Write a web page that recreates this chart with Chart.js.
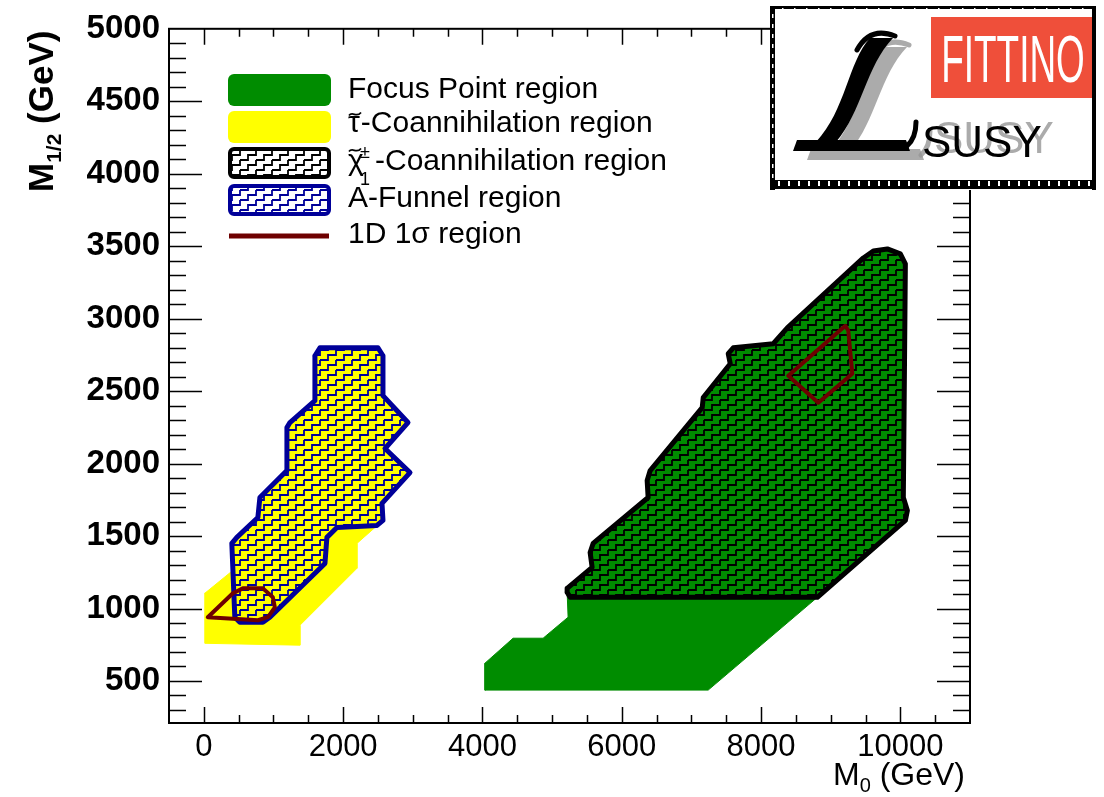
<!DOCTYPE html>
<html>
<head>
<meta charset="utf-8">
<script src="https://cdn.jsdelivr.net/npm/chart.js@4.4.0/dist/chart.umd.min.js"></script>
<style>
  html, body { margin: 0; padding: 0; background: #fff; }
  #chart { display: block; }
</style>
</head>
<body>
<canvas id="chart" width="1104" height="797"></canvas>
<script>
const xTicks = [0, 2000, 4000, 6000, 8000, 10000];
const yTicks = [500, 1000, 1500, 2000, 2500, 3000, 3500, 4000, 4500, 5000];

// Focus point region (green fill)
const focusM0  = [4037, 7241, 8808, 10072, 10101, 10043, 10072, 10000, 9813, 9612, 9469, 8377, 8175, 7601, 7529, 7558, 7170, 7155, 6408, 6365, 6379, 5589, 5546, 5575, 5216, 5216, 5230, 4871, 4440, 4037];
const focusM12 = [437, 437, 1077, 1608, 1677, 1766, 3378, 3447, 3481, 3467, 3419, 2937, 2827, 2799, 2758, 2689, 2455, 2386, 1952, 1883, 1766, 1449, 1387, 1284, 1139, 1112, 940, 795, 795, 623];

// stau coannihilation region (yellow fill)
const stauM0  = [14, 417, 402, 474, 776, 805, 1193, 1193, 1236, 1595, 1595, 1667, 2500, 2572, 2572, 2931, 2601, 2960, 2558, 2572, 2457, 2198, 2198, 1379, 1379, 14];
const stauM12 = [1105, 1263, 1449, 1491, 1628, 1766, 1952, 2248, 2283, 2434, 2744, 2799, 2799, 2744, 2469, 2283, 2104, 1938, 1725, 1608, 1559, 1449, 1277, 884, 747, 760];

// chargino coannihilation region (black hatch)
const charginoM0  = [5216, 5259, 8808, 10072, 10101, 10043, 10072, 10000, 9813, 9612, 9469, 8377, 8175, 7601, 7529, 7558, 7170, 7155, 6408, 6365, 6379, 5589, 5546, 5575, 5216];
const charginoM12 = [1112, 1077, 1077, 1608, 1677, 1766, 3378, 3447, 3481, 3467, 3419, 2937, 2827, 2799, 2758, 2689, 2455, 2386, 1952, 1883, 1766, 1449, 1387, 1284, 1139];

// A-funnel region (blue hatch)
const funnelM0  = [1595, 1667, 2500, 2572, 2572, 2931, 2601, 2960, 2558, 2572, 2486, 1911, 1767, 1739, 948, 848, 517, 445, 402, 474, 776, 805, 1193, 1193, 1236, 1595];
const funnelM12 = [2744, 2799, 2799, 2744, 2469, 2283, 2104, 1938, 1725, 1608, 1573, 1559, 1491, 1311, 940, 905, 905, 940, 1449, 1491, 1628, 1766, 1952, 2248, 2283, 2434];

// 1D 1 sigma contours
const sigmaLowM0   = [57, 417, 560, 848, 991, 1020, 920, 776];
const sigmaLowM12  = [940, 1105, 1139, 1139, 1077, 1008, 940, 919];
const sigmaHighM0  = [8391, 9210, 9253, 9310, 8822];
const sigmaHighM12 = [2606, 2951, 2916, 2620, 2420];

const GREEN = '#008c00';
const YELLOW = '#ffff00';
const NAVY = '#000099';
const MAROON = '#6e0000';
const FONT = '"Liberation Sans", Arial, sans-serif';

// closed polygon from two coordinate lists
function poly(xs, ys) {
  const pts = xs.map((x, i) => ({ x: x, y: ys[i] }));
  pts.push(pts[0]);
  return pts;
}

// staircase hatch, like the ROOT fill style
function stairPattern(color) {
  const c = document.createElement('canvas');
  c.width = 16; c.height = 10;
  const g = c.getContext('2d');
  g.strokeStyle = color;
  g.lineWidth = 1.8;
  for (const dy of [-10, 0, 10]) {
    for (const dx of [-16, 0, 16]) {
      g.beginPath();
      g.moveTo(dx, dy + 10);
      g.lineTo(dx + 8, dy + 10);
      g.lineTo(dx + 8, dy + 5);
      g.lineTo(dx + 16, dy + 5);
      g.lineTo(dx + 16, dy);
      g.stroke();
    }
  }
  return g.createPattern(c, 'repeat');
}

const blackHatch = stairPattern('#000');
const blueHatch = stairPattern(NAVY);

function region(pts, opts) {
  return Object.assign({
    data: pts,
    fill: 'shape',
    pointRadius: 0,
    tension: 0,
    borderJoinStyle: 'round',
    borderCapStyle: 'round'
  }, opts);
}

const datasets = [
  region(poly(sigmaLowM0, sigmaLowM12), { label: '1D 1σ region', fill: false, borderColor: MAROON, borderWidth: 4, order: 0 }),
  region(poly(sigmaHighM0, sigmaHighM12), { label: '1D 1σ region', fill: false, borderColor: MAROON, borderWidth: 4, order: 0 }),
  region(poly(charginoM0, charginoM12), { label: 'chargino', backgroundColor: blackHatch, borderColor: '#000', borderWidth: 5, order: 1 }),
  region(poly(funnelM0, funnelM12), { label: 'A-Funnel region', backgroundColor: blueHatch, borderColor: NAVY, borderWidth: 5, order: 1 }),
  region(poly(focusM0, focusM12), { label: 'Focus Point region', backgroundColor: GREEN, borderColor: GREEN, borderWidth: 1, order: 2 }),
  region(poly(stauM0, stauM12), { label: 'stau', backgroundColor: YELLOW, borderColor: YELLOW, borderWidth: 1, order: 2 })
];

// frame on all four sides with inward ticks
const frameTicks = {
  id: 'frameTicks',
  afterDatasetsDraw(chart) {
    const { ctx, chartArea: a, scales: { x, y } } = chart;
    ctx.save();
    ctx.strokeStyle = '#000';
    ctx.lineWidth = 1.5;
    ctx.beginPath();
    for (let v = 0; v < 11000; v += 500) {
      const px = Math.round(x.getPixelForValue(v)) + 0.5;
      const len = v % 2000 === 0 ? 16 : 8;
      ctx.moveTo(px, a.bottom); ctx.lineTo(px, a.bottom - len);
      ctx.moveTo(px, a.top); ctx.lineTo(px, a.top + len);
    }
    for (let v = 300; v < 5000; v += 100) {
      const py = Math.round(y.getPixelForValue(v)) + 0.5;
      const len = v % 500 === 0 ? 33 : 17;
      ctx.moveTo(a.left, py); ctx.lineTo(a.left + len, py);
      ctx.moveTo(a.right, py); ctx.lineTo(a.right - len, py);
    }
    ctx.stroke();
    ctx.lineWidth = 2;
    ctx.strokeRect(a.left, a.top, a.right - a.left, a.bottom - a.top);
    ctx.restore();
  }
};

function tilde(ctx, x, y, w) {
  ctx.beginPath();
  ctx.moveTo(x, y + 1.5);
  ctx.bezierCurveTo(x + w * 0.3, y - 3.5, x + w * 0.6, y + 4.5, x + w, y - 1.5);
  ctx.stroke();
}

function drawLegend(ctx) {
  ctx.save();
  // swatches
  ctx.fillStyle = GREEN;
  ctx.beginPath(); ctx.roundRect(228, 74, 103, 32, 6); ctx.fill();
  ctx.fillStyle = YELLOW;
  ctx.beginPath(); ctx.roundRect(228, 111, 103, 32, 6); ctx.fill();

  ctx.lineWidth = 4;
  ctx.fillStyle = '#fff';
  ctx.beginPath(); ctx.roundRect(230, 149, 99, 28, 4); ctx.fill();
  ctx.fillStyle = blackHatch; ctx.fill();
  ctx.strokeStyle = '#000'; ctx.stroke();

  ctx.fillStyle = '#fff';
  ctx.beginPath(); ctx.roundRect(230, 186, 99, 28, 4); ctx.fill();
  ctx.fillStyle = blueHatch; ctx.fill();
  ctx.strokeStyle = NAVY; ctx.stroke();

  ctx.strokeStyle = MAROON; ctx.lineWidth = 5;
  ctx.beginPath(); ctx.moveTo(229, 236); ctx.lineTo(329, 236); ctx.stroke();

  // labels
  ctx.fillStyle = '#000';
  ctx.strokeStyle = '#000';
  ctx.textBaseline = 'alphabetic';
  ctx.font = '30px ' + FONT;
  ctx.fillText('Focus Point region', 348, 98);

  ctx.fillText('τ', 348, 132);
  let w = ctx.measureText('τ').width;
  ctx.lineWidth = 1.8;
  tilde(ctx, 349, 114, 12);
  ctx.fillText('-Coannihilation region', 348 + w + 1, 132);

  ctx.fillText('χ', 348, 170);
  tilde(ctx, 349, 150, 12);
  ctx.font = '18px ' + FONT;
  ctx.fillText('±', 360, 158);
  ctx.fillText('1', 360, 185);
  ctx.font = '30px ' + FONT;
  ctx.fillText('-Coannihilation region', 375, 170);

  ctx.fillText('A-Funnel region', 348, 207);
  ctx.fillText('1D 1σ region', 348, 243);
  ctx.restore();
}

function drawTitles(ctx, a) {
  ctx.save();
  ctx.fillStyle = '#000';
  ctx.textBaseline = 'alphabetic';
  // x title, right aligned to the frame
  const big = '32px ' + FONT, sub = '20px ' + FONT;
  ctx.font = big; const wM = ctx.measureText('M').width, wG = ctx.measureText(' (GeV)').width;
  ctx.font = sub; const w0 = ctx.measureText('0').width;
  let x0 = a.right - 5 - (wM + w0 + wG);
  ctx.font = big; ctx.fillText('M', x0, 785);
  ctx.font = sub; ctx.fillText('0', x0 + wM, 792);
  ctx.font = big; ctx.fillText(' (GeV)', x0 + wM + w0, 785);

  // y title, rotated, ending at the top of the frame
  ctx.translate(53, 192);
  ctx.rotate(-Math.PI / 2);
  const yb = 'bold 35px ' + FONT, ys = 'bold 21px ' + FONT;
  ctx.font = yb; ctx.fillText('M', 0, 0);
  let wm = ctx.measureText('M').width;
  ctx.font = ys; ctx.fillText('1/2', wm, 8);
  let wh = ctx.measureText('1/2').width;
  ctx.font = yb; ctx.fillText(' (GeV)', wm + wh, 0);
  ctx.restore();
}

function drawLogo(ctx) {
  ctx.save();
  ctx.fillStyle = '#fff';
  ctx.fillRect(770, 6, 326, 184);

  // red label
  ctx.fillStyle = '#ef4f3a';
  ctx.fillRect(931, 17, 162, 81);
  ctx.save();
  ctx.translate(1013, 82);
  ctx.scale(0.56, 1);
  ctx.font = '66px ' + FONT;
  ctx.fillStyle = '#fff';
  ctx.textAlign = 'center';
  ctx.fillText('FITTINO', 0, 0);
  ctx.restore();

  // script L, grey shadow first
  const drawL = (dx, dy, col) => {
    ctx.save();
    ctx.translate(dx, dy);
    ctx.fillStyle = col; ctx.strokeStyle = col;
    ctx.beginPath();
    ctx.moveTo(870, 38);
    ctx.bezierCurveTo(848, 62, 846, 110, 816, 142);
    ctx.lineTo(836, 142);
    ctx.bezierCurveTo(862, 112, 866, 66, 893, 38);
    ctx.closePath();
    ctx.fill();
    ctx.lineWidth = 5; ctx.lineCap = 'round';
    ctx.beginPath();
    ctx.moveTo(895, 36);
    ctx.quadraticCurveTo(870, 26, 857, 50);
    ctx.stroke();
    ctx.beginPath();
    ctx.moveTo(797, 140); ctx.lineTo(906, 140); ctx.lineTo(910, 151); ctx.lineTo(793, 151);
    ctx.closePath(); ctx.fill();
    ctx.beginPath();
    ctx.moveTo(907, 146); ctx.quadraticCurveTo(916, 138, 916, 122);
    ctx.stroke();
    ctx.restore();
  };
  drawL(14, 9, 'rgba(150,150,150,0.8)');
  drawL(0, 0, '#000');

  ctx.font = '44px ' + FONT;
  ctx.fillStyle = 'rgba(150,150,150,0.8)';
  ctx.fillText('SUSY', 934, 153);
  ctx.fillStyle = '#000';
  ctx.fillText('SUSY', 922, 157);

  // frame with its dashed edges
  ctx.fillStyle = '#000';
  ctx.fillRect(770, 6, 326, 3);
  ctx.fillRect(1092, 6, 4, 184);
  ctx.fillRect(770, 6, 5, 184);
  ctx.fillRect(770, 180, 326, 9);
  ctx.fillStyle = '#fff';
  for (let x = 778; x < 1090; x += 10) ctx.fillRect(x, 181, 2, 5);
  for (let y = 14; y < 178; y += 10) ctx.fillRect(772, y, 1.5, 4);
  for (let x = 782; x < 1090; x += 12) ctx.fillRect(x, 8, 1.5, 1);
  ctx.restore();
}

const decorations = {
  id: 'decorations',
  afterDraw(chart) {
    const ctx = chart.ctx;
    drawLegend(ctx);
    drawTitles(ctx, chart.chartArea);
    drawLogo(ctx);
  }
};

new Chart(document.getElementById('chart'), {
  type: 'line',
  data: { datasets: datasets },
  options: {
    responsive: false,
    animation: false,
    devicePixelRatio: 1,
    layout: { padding: { left: 0, top: 27.5, right: 134, bottom: 0 } },
    plugins: { legend: { display: false }, tooltip: { enabled: false } },
    scales: {
      x: {
        type: 'linear',
        min: -500,
        max: 11000,
        afterBuildTicks: s => { s.ticks = xTicks.map(v => ({ value: v })); },
        afterFit: s => { s.height = 74; },
        grid: { display: false, drawTicks: false },
        border: { display: false },
        ticks: {
          autoSkip: false, maxRotation: 0, padding: 6, color: '#000',
          font: { family: FONT, size: 31 },
          callback: v => String(v)
        }
      },
      y: {
        type: 'linear',
        min: 210,
        max: 5000,
        afterBuildTicks: s => { s.ticks = yTicks.map(v => ({ value: v })); },
        afterFit: s => { s.width = 169; },
        grid: { display: false, drawTicks: false },
        border: { display: false },
        ticks: {
          autoSkip: false, padding: 9, color: '#000',
          font: { family: FONT, size: 33, weight: 'bold' },
          callback: v => String(v)
        }
      }
    }
  },
  plugins: [frameTicks, decorations]
});
</script>
</body>
</html>
